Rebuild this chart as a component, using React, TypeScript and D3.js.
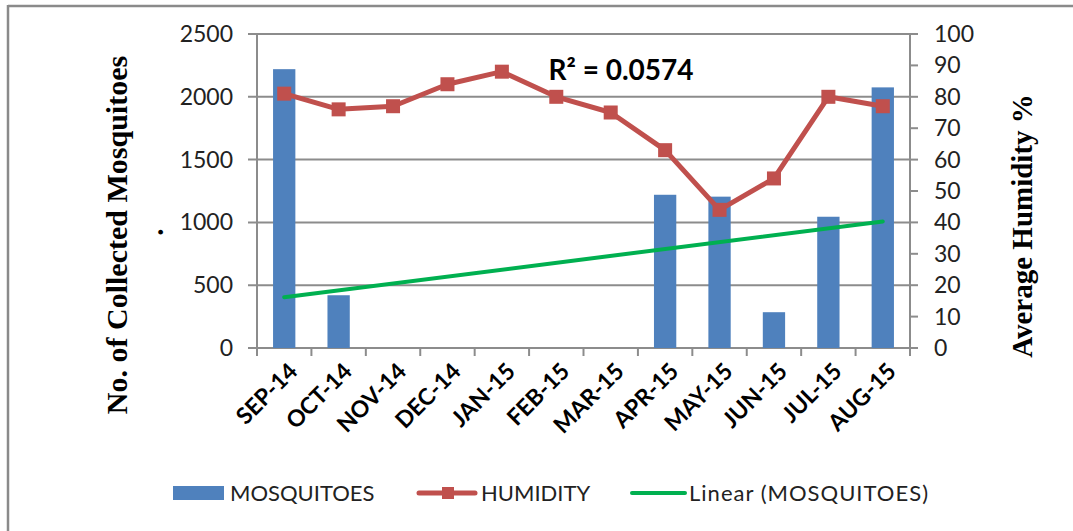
import React from "react";
import * as d3 from "d3";

const categories = ["SEP-14","OCT-14","NOV-14","DEC-14","JAN-15","FEB-15","MAR-15","APR-15","MAY-15","JUN-15","JUL-15","AUG-15"];
const mosquitoes = [2220, 420, 0, 0, 0, 0, 0, 1220, 1205, 285, 1045, 2075];
const humidity = [81, 76, 77, 84, 88, 80, 75, 63, 44, 54, 80, 77];
const leftTicks = [0, 500, 1000, 1500, 2000, 2500];
const rightTicks = [0, 10, 20, 30, 40, 50, 60, 70, 80, 90, 100];
const r2Label = "R² = 0.0574";

const W = 1073, H = 531;
const PL = 257, PR = 910, PT = 34, PB = 348;
const GRID = "#8c8c8c";
const BLUE = "#4F81BD";
const RED = "#C0504D";
const GREEN = "#00B050";
const SANS = "Lato, 'Open Sans', sans-serif";
const SERIF = "'Liberation Serif', 'Times New Roman', serif";

export default function App() {
  const x = d3.scaleBand<string>().domain(categories).range([PL, PR]).paddingInner(0).paddingOuter(0);
  const yL = d3.scaleLinear().domain([0, 2500]).range([PB, PT]);
  const yR = d3.scaleLinear().domain([0, 100]).range([PB, PT]);
  const bw = x.bandwidth();
  const barW = bw * 0.41;
  const cx = (c: string) => (x(c) as number) + bw / 2;

  // linear regression trendline on mosquito counts (x = 1..12)
  const n = mosquitoes.length;
  const xs = mosquitoes.map((_, i) => i + 1);
  const mx = d3.mean(xs) as number;
  const my = d3.mean(mosquitoes) as number;
  const sxy = d3.sum(xs.map((xi, i) => (xi - mx) * (mosquitoes[i] - my)));
  const sxx = d3.sum(xs.map((xi) => (xi - mx) ** 2));
  const slope = sxy / sxx;
  const icpt = my - slope * mx;
  const trend = [1, n].map((xi) => [cx(categories[xi - 1]), yL(icpt + slope * xi)] as [number, number]);

  const humLine = d3.line<number>().x((_, i) => cx(categories[i])).y((d) => yR(d))(humidity) as string;
  const boundaries = categories.map((c) => x(c) as number).concat([PR]);

  return (
    <svg width={W} height={H} style={{ position: "absolute", left: 0, top: 0, background: "#fff" }}>
      <rect x={0} y={0} width={W} height={H} fill="#fff" />
      {/* outer frame */}
      <line x1={8} y1={6} x2={W} y2={6} stroke="#8a8a8a" strokeWidth={2.5} />
      <line x1={8} y1={5} x2={8} y2={H} stroke="#8a8a8a" strokeWidth={2.5} />

      {/* gridlines */}
      {leftTicks.map((t) => (
        <line key={"g" + t} x1={248} x2={PR} y1={yL(t)} y2={yL(t)} stroke={GRID} strokeWidth={2} />
      ))}
      {/* right ticks */}
      {rightTicks.map((t) => (
        <line key={"rt" + t} x1={PR} x2={918} y1={yR(t)} y2={yR(t)} stroke={GRID} strokeWidth={2} />
      ))}
      {/* axes */}
      <line x1={PL} x2={PL} y1={PT} y2={PB} stroke={GRID} strokeWidth={2} />
      <line x1={PR} x2={PR} y1={PT} y2={PB} stroke={GRID} strokeWidth={2} />
      <line x1={PL} x2={PR} y1={PB} y2={PB} stroke={GRID} strokeWidth={2} />
      {boundaries.map((b, i) => (
        <line key={"xt" + i} x1={b} x2={b} y1={PB} y2={PB + 8} stroke={GRID} strokeWidth={2} />
      ))}

      {/* bars */}
      {mosquitoes.map((v, i) =>
        v > 0 ? (
          <rect key={"b" + i} x={cx(categories[i]) - barW / 2} y={yL(v)} width={barW} height={PB - yL(v)} fill={BLUE} />
        ) : null
      )}

      {/* humidity line */}
      <path d={humLine} fill="none" stroke={RED} strokeWidth={5} strokeLinejoin="round" />
      {humidity.map((v, i) => (
        <rect key={"m" + i} x={cx(categories[i]) - 7} y={yR(v) - 7} width={14} height={14} fill={RED} />
      ))}

      {/* trendline */}
      <line x1={trend[0][0]} y1={trend[0][1]} x2={trend[1][0]} y2={trend[1][1]} stroke={GREEN} strokeWidth={4} strokeLinecap="round" />

      {/* R² label */}
      <text x={621} y={80} textAnchor="middle" fontFamily={SANS} fontWeight={700} fontSize={28} fill="#000">{r2Label}</text>

      {/* left tick labels */}
      {leftTicks.map((t) => (
        <text key={"lt" + t} x={233} y={yL(t)} dy="0.35em" textAnchor="end" fontFamily={SANS} fontSize={23} fill="#222">{t}</text>
      ))}
      {/* right tick labels */}
      {rightTicks.map((t) => (
        <text key={"rl" + t} x={934} y={yR(t)} dy="0.35em" textAnchor="start" fontFamily={SANS} fontSize={23} fill="#222">{t}</text>
      ))}

      {/* category labels */}
      {categories.map((c) => (
        <text key={"c" + c} transform={`translate(${cx(c) + 9},${PB + 19}) rotate(-45)`} textAnchor="end" dy="0.35em"
          fontFamily={SANS} fontWeight={700} fontSize={23} fill="#000">{c}</text>
      ))}

      {/* axis titles */}
      <text transform={`translate(127,235) rotate(-90)`} textAnchor="middle" fontFamily={SERIF} fontWeight={700} fontSize={30} fill="#000">No. of Collected Mosquitoes</text>
      <text transform={`translate(163,232) rotate(-90)`} textAnchor="middle" fontFamily={SERIF} fontWeight={700} fontSize={29} fill="#000">.</text>
      <text transform={`translate(1032,226) rotate(-90)`} textAnchor="middle" fontFamily={SERIF} fontWeight={700} fontSize={29} fill="#000">Average Humidity %</text>

      {/* legend */}
      <rect x={173} y={486} width={51} height={14} fill={BLUE} />
      <text x={230} y={493} dy="0.35em" fontFamily={SANS} fontSize={22} fill="#222">MOSQUITOES</text>
      <line x1={419} x2={475} y1={493} y2={493} stroke={RED} strokeWidth={5} strokeLinecap="round" />
      <rect x={442} y={487} width={12} height={12} fill={RED} />
      <text x={481} y={493} dy="0.35em" fontFamily={SANS} fontSize={22} fill="#222">HUMIDITY</text>
      <line x1={632} x2={685} y1={493} y2={493} stroke={GREEN} strokeWidth={4} strokeLinecap="round" />
      <text x={689} y={493} dy="0.35em" fontFamily={SANS} fontSize={22} fill="#222" textLength={239} lengthAdjust="spacing">Linear (MOSQUITOES)</text>
    </svg>
  );
}
